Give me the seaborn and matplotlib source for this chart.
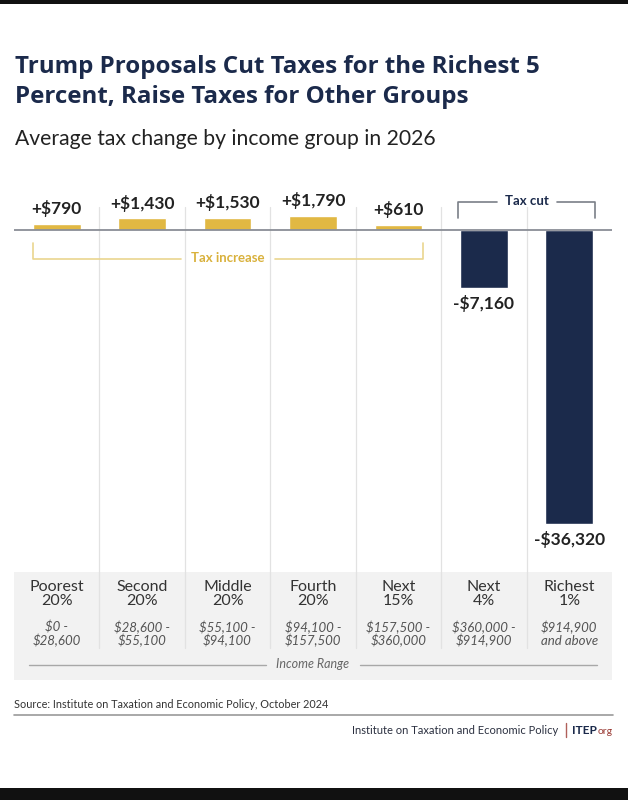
import matplotlib
matplotlib.use("Agg")
import matplotlib.pyplot as plt
import seaborn as sns
import pandas as pd
from matplotlib.patches import Rectangle

# ---------------- data ----------------
group_codes = ["p20", "s20", "m20", "f20", "n15", "n4", "r1"]
group_names = ["Poorest\n20%", "Second\n20%", "Middle\n20%", "Fourth\n20%",
               "Next\n15%", "Next\n4%", "Richest\n1%"]
income_ranges = ["$0 -\n$28,600", "$28,600 -\n$55,100", "$55,100 -\n$94,100",
                 "$94,100 -\n$157,500", "$157,500 -\n$360,000",
                 "$360,000 -\n$914,900", "$914,900\nand above"]
tax_change = [790, 1430, 1530, 1790, 610, -7160, -36320]
value_labels = ["+$790", "+$1,430", "+$1,530", "+$1,790", "+$610",
                "-$7,160", "-$36,320"]
kinds = ["Tax increase" if v > 0 else "Tax cut" for v in tax_change]

title_lines = ["Trump Proposals Cut Taxes for the Richest 5",
               "Percent, Raise Taxes for Other Groups"]
subtitle = "Average tax change by income group in 2026"
source = "Source: Institute on Taxation and Economic Policy, October 2024"

GOLD = "#E1B843"
NAVY = "#1B2A4B"

df = pd.DataFrame({"group": group_codes, "value": tax_change, "kind": kinds})

sns.set_theme(style="white")
plt.rcParams["font.family"] = ["Lato", "DejaVu Sans"]

W, H = 628, 800
fig = plt.figure(figsize=(W / 100, H / 100), dpi=100)
fig.patch.set_facecolor("white")

# axes spanning chart area: x 14..612 px, y 185..680 px
AX_L, AX_R, AX_T, AX_B = 14, 612, 185, 680
ZERO_PY = 230
S = 0.0081  # px per dollar
ax = fig.add_axes([AX_L / W, 1 - AX_B / H, (AX_R - AX_L) / W, (AX_B - AX_T) / H])

def Y(py):
    return (ZERO_PY - py) / S

def X(px):
    return -0.5 + (px - AX_L) / ((AX_R - AX_L) / 7)

# background panel for group labels
ax.add_patch(Rectangle((X(14), Y(680)), X(612) - X(14), Y(572) - Y(680),
                       facecolor="#F2F2F2", edgecolor="none", zorder=0))

# separators
for i in range(6):
    ax.plot([i + 0.5, i + 0.5], [Y(207), Y(648)], color="#E2E2E2", lw=0.9, zorder=0.5)

sns.barplot(data=df, x="group", y="value", hue="kind", order=group_codes,
            hue_order=["Tax increase", "Tax cut"],
            palette={"Tax increase": GOLD, "Tax cut": NAVY},
            dodge=False, width=0.56, saturation=1, legend=False, ax=ax, zorder=2)

ax.set_xlim(-0.5, 6.5)
ax.set_ylim(Y(AX_B), Y(AX_T))
ax.axis("off")
ax.axhline(0, color="#8A8E96", lw=1.3, zorder=3)

# value labels
for i, (v, lab) in enumerate(zip(tax_change, value_labels)):
    if v > 0:
        ax.annotate(lab, (i, v), xytext=(0, 7), textcoords="offset points",
                    ha="center", va="baseline", fontsize=12.5, fontweight="bold",
                    color="#222222", parse_math=False)
    else:
        ax.annotate(lab, (i, v), xytext=(0, -5), textcoords="offset points",
                    ha="center", va="top", fontsize=12.5, fontweight="bold",
                    color="#222222", parse_math=False)

# Tax increase bracket
bc = "#EAD58F"
ax.plot([X(33), X(33), X(181)], [Y(243), Y(259), Y(259)], color=bc, lw=1.2, zorder=3)
ax.plot([X(275), X(423), X(423)], [Y(259), Y(259), Y(243)], color=bc, lw=1.2, zorder=3)
ax.text(X(228), Y(258), "Tax increase", ha="center", va="center", fontsize=9.5,
        fontweight="bold", color="#D9B13C")

# Tax cut bracket
gc = "#7A7F88"
ax.plot([X(458), X(458), X(497)], [Y(218), Y(202), Y(202)], color=gc, lw=1.2, zorder=3)
ax.plot([X(557), X(595), X(595)], [Y(202), Y(202), Y(218)], color=gc, lw=1.2, zorder=3)
ax.text(X(527), Y(201), "Tax cut", ha="center", va="center", fontsize=9.5,
        fontweight="bold", color=NAVY)

# group names and income ranges
for i, (name, rng) in enumerate(zip(group_names, income_ranges)):
    ax.text(i, Y(594), name, ha="center", va="center", fontsize=11.5,
            color="#333333", linespacing=0.95)
    ax.text(i, Y(634), rng, ha="center", va="center", fontsize=9.5,
            style="italic", color="#555555", linespacing=1.05, parse_math=False)

# Income range axis label
ax.plot([X(29), X(266)], [Y(665), Y(665)], color="#A8A8A8", lw=1.0, zorder=1)
ax.plot([X(360), X(597)], [Y(665), Y(665)], color="#A8A8A8", lw=1.0, zorder=1)
ax.text(X(313), Y(664), "Income Range", ha="center", va="center", fontsize=9,
        style="italic", color="#666666")

# titles
for k, (line, base) in enumerate(zip(title_lines, [73, 103])):
    fig.text(15 / W, 1 - base / H, line, ha="left", va="baseline", fontsize=17.4,
             fontweight="bold", color=NAVY,
             family=["Open Sans", "DejaVu Sans"])
fig.text(15 / W, 1 - 145 / H, subtitle, ha="left", va="baseline", fontsize=15.2,
         color="#222222")

# source + footer
fig.text(14 / W, 1 - 705 / H, source, ha="left", va="center", fontsize=7.8,
         color="#333333")
fig.add_artist(plt.Line2D([14 / W, 613 / W], [1 - 715 / H, 1 - 715 / H],
                          color="#9A9A9A", lw=1.2))
fig.text(558 / W, 1 - 730 / H, "Institute on Taxation and Economic Policy",
         ha="right", va="center", fontsize=8, color="#2B3040")
fig.add_artist(plt.Line2D([566 / W, 566 / W], [1 - 723 / H, 1 - 737 / H],
                          color="#B0605A", lw=1.0))
fig.text(572 / W, 1 - 730 / H, "ITEP", ha="left", va="center", fontsize=8.5,
         fontweight="bold", color=NAVY)
fig.text(598 / W, 1 - 731 / H, "org", ha="left", va="center", fontsize=7.5,
         color="#9A3B35")

# black bands top and bottom
fig.add_artist(Rectangle((0, 1 - 4 / H), 1, 4 / H, transform=fig.transFigure,
                         facecolor="#111111", edgecolor="none"))
fig.add_artist(Rectangle((0, 0), 1, 12 / H, transform=fig.transFigure,
                         facecolor="#111111", edgecolor="none"))

fig.savefig("out.png", dpi=100)
